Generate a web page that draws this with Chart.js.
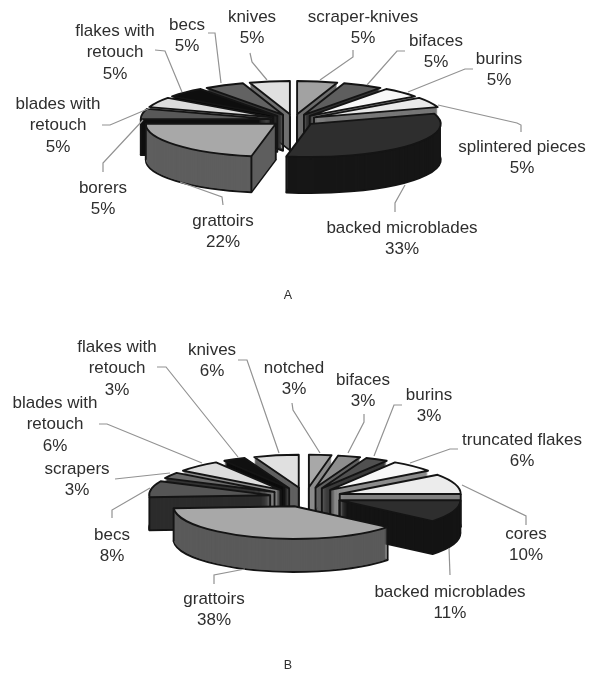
<!DOCTYPE html>
<html>
<head>
<meta charset="utf-8">
<script src="https://cdn.jsdelivr.net/npm/chart.js@4"></script>
<style>
  html, body { margin: 0; padding: 0; background: #fff; }
  body { width: 595px; height: 675px; position: relative; overflow: hidden; }
  canvas { position: absolute; left: 0; filter: blur(0.6px); }
  #pieA { top: 0; }
  #pieB { top: 330px; }
</style>
</head>
<body>
<canvas id="pieA" width="595" height="330"></canvas>
<canvas id="pieB" width="595" height="345"></canvas>
<script>
// clockwise from 12 o'clock
const categoriesA = ["scraper-knives", "bifaces", "burins", "splintered pieces", "backed microblades", "grattoirs", "borers", "blades with retouch", "flakes with retouch", "becs", "knives"];
const valuesA = [5, 5, 5, 5, 33, 22, 5, 5, 5, 5, 5];
const topColorsA = ["#a2a2a2", "#5e5e5e", "#f8f8f8", "#e8e8e8", "#2e2e2e", "#a8a8a8", "#585858", "#dcdcdc", "#0e0e0e", "#626262", "#e0e0e0"];
const sideColorsA = ["#6c6c6c", "#333333", "#8c8c8c", "#777777", "#161616", "#5e5e5e", "#0e0e0e", "#8c8c8c", "#050505", "#333333", "#707070"];

const categoriesB = ["notched", "bifaces", "burins", "truncated flakes", "cores", "backed microblades", "grattoirs", "becs", "scrapers", "blades with retouch", "flakes with retouch", "knives"];
const valuesB = [3, 3, 3, 6, 10, 11, 38, 8, 3, 6, 3, 6];
const topColorsB = ["#a8a8a8", "#8e8e8e", "#505050", "#f8f8f8", "#ececec", "#2e2e2e", "#a8a8a8", "#555555", "#6a6a6a", "#dddddd", "#101010", "#e0e0e0"];
const sideColorsB = ["#8c8c8c", "#606060", "#3a3a3a", "#8c8c8c", "#808080", "#141414", "#5a5a5a", "#2c2c2c", "#333333", "#8c8c8c", "#0c0c0c", "#606060"];

// label centre x, first line y, then the leader line (page coordinates)
const spotsA = [
  { x: 363, y: 17, line: [[353, 50], [353, 57], [320, 80]] },
  { x: 436, y: 41, line: [[405, 51], [397, 51], [367, 85]] },
  { x: 499, y: 59, line: [[473, 69], [465, 69], [408, 92]] },
  { x: 522, y: 147, line: [[521, 132], [521, 125], [517, 123], [438, 105]] },
  { x: 402, y: 228, line: [[395, 212], [395, 203], [405, 185]] },
  { x: 223, y: 221, line: [[223, 205], [222, 197], [180, 182]] },
  { x: 103, y: 188, line: [[103, 172], [103, 163], [143, 120]] },
  { x: 58, y: 104, line: [[102, 125], [110, 125], [150, 108]] },
  { x: 115, y: 31, line: [[155, 50], [165, 51], [182, 92]] },
  { x: 187, y: 25, line: [[208, 33], [215, 33], [221, 83]] },
  { x: 252, y: 17, line: [[250, 53], [252, 62], [267, 80]] },
];
const spotsB = [
  { x: 294, y: 368, line: [[292, 403], [293, 410], [320, 453]] },
  { x: 363, y: 380, line: [[364, 414], [364, 422], [348, 453]] },
  { x: 429, y: 395, line: [[402, 405], [394, 405], [374, 456]] },
  { x: 522, y: 440, line: [[458, 449], [450, 449], [410, 463]] },
  { x: 526, y: 534, line: [[526, 525], [526, 516], [462, 485]] },
  { x: 450, y: 592, line: [[450, 575], [449, 548]] },
  { x: 214, y: 599, line: [[214, 584], [214, 575], [245, 569]] },
  { x: 112, y: 535, line: [[112, 518], [112, 510], [150, 488]] },
  { x: 77, y: 469, line: [[115, 479], [170, 473]] },
  { x: 55, y: 403, line: [[99, 424], [107, 424], [202, 463]] },
  { x: 117, y: 347, line: [[157, 367], [166, 367], [238, 457]] },
  { x: 212, y: 350, line: [[238, 360], [247, 360], [279, 453]] },
];

function sectorPath(ctx, cfg, el) {
  const mid = (el.startAngle + el.endAngle) / 2;
  const x = cfg.cx + Math.cos(mid) * cfg.explode;
  const y = cfg.cy + Math.sin(mid) * cfg.explode * cfg.squash;
  ctx.beginPath();
  ctx.moveTo(x, y);
  ctx.ellipse(x, y, el.outerRadius, el.outerRadius * cfg.squash, 0, el.startAngle, el.endAngle);
  ctx.closePath();
  return { x, y };
}

// the pie is tilted and extruded here, the arcs themselves come from Chart.js
const tiltedPie = {
  id: "tiltedPie",
  beforeDatasetsDraw(chart, args, cfg) {
    const ctx = chart.ctx;
    const meta = chart.getDatasetMeta(0);
    const order = meta.data.map((el, i) => ({ el, i }));
    order.sort((a, b) => Math.sin((a.el.startAngle + a.el.endAngle) / 2) - Math.sin((b.el.startAngle + b.el.endAngle) / 2));

    ctx.save();
    ctx.lineJoin = "round";
    ctx.lineWidth = 1.9;
    ctx.strokeStyle = "#141414";
    for (const { el, i } of order) {
      const side = cfg.sides[i];
      // bottom rim, then the wall built up to the top
      ctx.save();
      ctx.translate(0, cfg.depth);
      const apex = sectorPath(ctx, cfg, el);
      ctx.fillStyle = side;
      ctx.fill();
      ctx.stroke();
      ctx.restore();
      ctx.fillStyle = side;
      for (let d = cfg.depth - 1; d >= 0; d--) {
        ctx.save();
        ctx.translate(0, d);
        sectorPath(ctx, cfg, el);
        ctx.fill();
        ctx.restore();
      }
      // vertical edges, only the corners on the near half show
      const rx = el.outerRadius, ry = el.outerRadius * cfg.squash;
      ctx.beginPath();
      for (const a of [el.startAngle, el.endAngle]) {
        if (Math.sin(a) < -0.02) continue;
        const px = apex.x + Math.cos(a) * rx;
        const py = apex.y + Math.sin(a) * ry;
        ctx.moveTo(px, py);
        ctx.lineTo(px, py + cfg.depth);
      }
      ctx.moveTo(apex.x, apex.y);
      ctx.lineTo(apex.x, apex.y + cfg.depth);
      ctx.stroke();

      // top face
      ctx.save();
      ctx.translate(apex.x, apex.y);
      ctx.scale(1, cfg.squash);
      ctx.translate(-el.x, -el.y);
      el.draw(ctx);
      ctx.restore();
      sectorPath(ctx, cfg, el);
      ctx.stroke();
    }
    ctx.restore();
    return false;
  },
  afterDraw(chart, args, cfg) {
    const ctx = chart.ctx;
    const labels = chart.data.labels;
    const values = chart.data.datasets[0].data;
    ctx.save();
    ctx.translate(0, -cfg.pageTop);
    ctx.strokeStyle = "#929292";
    ctx.lineWidth = 1.2;
    for (const spot of cfg.spots) {
      ctx.beginPath();
      spot.line.forEach(([x, y], n) => (n ? ctx.lineTo(x, y) : ctx.moveTo(x, y)));
      ctx.stroke();
    }
    ctx.fillStyle = "#2e2e2e";
    ctx.font = '17px "Liberation Sans"';
    ctx.textAlign = "center";
    ctx.textBaseline = "middle";
    cfg.spots.forEach((spot, i) => {
      const lines = labels[i].replace(" with ", " with\n").split("\n");
      lines.push(values[i] + "%");
      lines.forEach((text, n) => ctx.fillText(text, spot.x, spot.y + n * 21.5));
    });
    ctx.font = '12.5px "Liberation Sans"';
    ctx.fillText(cfg.caption, 288, cfg.captionY);
    ctx.restore();
  },
};

function makePie(id, labels, values, tops, options) {
  return new Chart(document.getElementById(id), {
    type: "pie",
    data: { labels, datasets: [{ data: values, backgroundColor: tops, borderWidth: 0, radius: options.radius }] },
    options: {
      responsive: false,
      animation: false,
      devicePixelRatio: 1,
      plugins: {
        legend: { display: false },
        tooltip: { enabled: false },
        tiltedPie: options,
      },
    },
    plugins: [tiltedPie],
  });
}

makePie("pieA", categoriesA, valuesA, topColorsA, {
  radius: 130, cx: 293.5, cy: 120, squash: 0.255, explode: 23, depth: 36,
  sides: sideColorsA, spots: spotsA, pageTop: 0, caption: "A", captionY: 296,
});
makePie("pieB", categoriesB, valuesB, topColorsB, {
  radius: 121, cx: 305.5, cy: 167, squash: 0.27, explode: 36, depth: 33,
  sides: sideColorsB, spots: spotsB, pageTop: 330, caption: "B", captionY: 666,
});
</script>
</body>
</html>
